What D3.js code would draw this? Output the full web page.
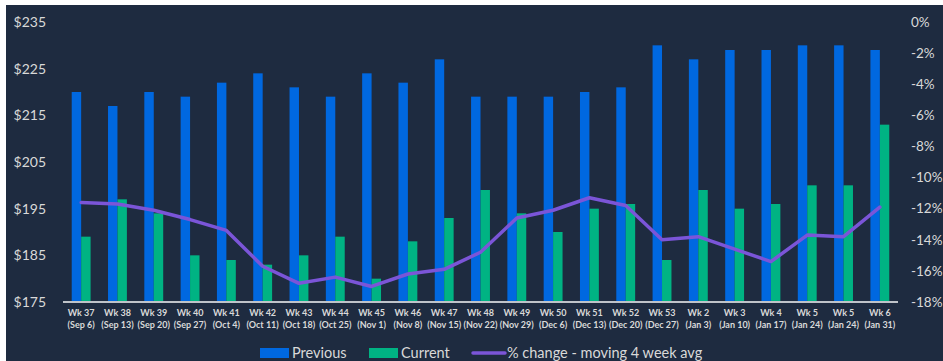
<!DOCTYPE html>
<html>
<head>
<meta charset="utf-8">
<script src="https://cdn.jsdelivr.net/npm/d3@7"></script>
<style>
  html, body { margin: 0; padding: 0; background: #ffffff; }
  svg { display: block; }
  text { font-family: Lato, "Open Sans", "Liberation Sans", sans-serif; }
</style>
</head>
<body>
<svg id="chart" width="943" height="361"></svg>
<script>
// Weekly average spend: previous year vs current year, plus moving % change
const weekNames = ["Wk 37","Wk 38","Wk 39","Wk 40","Wk 41","Wk 42","Wk 43","Wk 44","Wk 45","Wk 46","Wk 47","Wk 48",
                   "Wk 49","Wk 50","Wk 51","Wk 52","Wk 53","Wk 2","Wk 3","Wk 4","Wk 5","Wk 5","Wk 6"];
const weekDates = ["(Sep 6)","(Sep 13)","(Sep 20)","(Sep 27)","(Oct 4)","(Oct 11)","(Oct 18)","(Oct 25)","(Nov 1)",
                   "(Nov 8)","(Nov 15)","(Nov 22)","(Nov 29)","(Dec 6)","(Dec 13)","(Dec 20)","(Dec 27)","(Jan 3)",
                   "(Jan 10)","(Jan 17)","(Jan 24)","(Jan 24)","(Jan 31)"];
const previous = [220,217,220,219,222,224,221,219,224,222,227,219,219,219,220,221,230,227,229,229,230,230,229];
const current  = [189,197,194,185,184,183,185,189,180,188,193,199,194,190,195,196,184,199,195,196,200,200,213];
const pctChange = [-11.6,-11.7,-12.1,-12.7,-13.4,-15.7,-16.8,-16.4,-17.0,-16.2,-15.9,-14.8,
                   -12.6,-12.1,-11.3,-11.8,-14.0,-13.8,-14.6,-15.4,-13.7,-13.8,-11.9];
const dollarTicks = [175,185,195,205,215,225,235];
const pctTicks = [0,-2,-4,-6,-8,-10,-12,-14,-16,-18];
const seriesNames = ["Previous","Current","% change - moving 4 week avg"];

const colors = { bg: "#1e2b40", prev: "#0068e0", cur: "#00b383", line: "#7b55d8", text: "#d9d9d9", axis: "#bfc3c9" };

const svg = d3.select("#chart");
svg.append("rect").attr("x", 6).attr("y", 5).attr("width", 943 - 6).attr("height", 361 - 5).attr("fill", colors.bg);

const plot = { left: 63, right: 898, top: 22, bottom: 302 };
const idx = d3.range(weekNames.length);

const x0 = d3.scaleBand().domain(idx).range([plot.left, plot.right]).paddingInner(0.48).paddingOuter(0.24);
const x1 = d3.scaleBand().domain(["prev","cur"]).range([0, x0.bandwidth()]);
const y = d3.scaleLinear().domain([175, 235]).range([plot.bottom, plot.top]);
const yPct = d3.scaleLinear().domain([-18, 0]).range([plot.bottom, plot.top]);

// Bars
const groups = svg.append("g").selectAll("g").data(idx).join("g")
  .attr("transform", i => `translate(${x0(i)},0)`);
groups.append("rect")
  .attr("x", x1("prev")).attr("width", x1.bandwidth())
  .attr("y", i => y(previous[i])).attr("height", i => y(175) - y(previous[i]))
  .attr("fill", colors.prev);
groups.append("rect")
  .attr("x", x1("cur")).attr("width", x1.bandwidth())
  .attr("y", i => y(current[i])).attr("height", i => y(175) - y(current[i]))
  .attr("fill", colors.cur);

// Moving-average % change line
const line = d3.line().x(i => x0(i) + x0.bandwidth() / 2).y(i => yPct(pctChange[i]));
svg.append("path").datum(idx).attr("d", line)
  .attr("fill", "none").attr("stroke", colors.line).attr("stroke-width", 3.5)
  .attr("stroke-linejoin", "round").attr("stroke-linecap", "round");

// Baseline
svg.append("line").attr("x1", plot.left).attr("x2", plot.right)
  .attr("y1", plot.bottom).attr("y2", plot.bottom)
  .attr("stroke", colors.axis).attr("stroke-width", 2);

// Left axis ($)
const leftAxis = d3.axisLeft(y).tickValues(dollarTicks).tickFormat(d => "$" + d).tickSize(0).tickPadding(0);
const gL = svg.append("g").attr("transform", "translate(46,0)").call(leftAxis);
gL.select(".domain").remove();
gL.selectAll("text").attr("fill", colors.text).attr("font-size", 14).attr("font-family", "Lato, sans-serif");

// Right axis (%)
const rightAxis = d3.axisRight(yPct).tickValues(pctTicks).tickFormat(d => d + "%").tickSize(0).tickPadding(0);
const gR = svg.append("g").attr("transform", "translate(911,0)").call(rightAxis);
gR.select(".domain").remove();
gR.selectAll("text").attr("fill", colors.text).attr("font-size", 13.5).attr("font-family", "Lato, sans-serif");

// Category labels (two lines)
const xl = svg.append("g").selectAll("text").data(idx).join("text")
  .attr("x", i => x0(i) + x0.bandwidth() / 2)
  .attr("text-anchor", "middle").attr("fill", colors.text)
  .attr("font-size", 9).attr("font-weight", "bold");
xl.append("tspan").attr("x", i => x0(i) + x0.bandwidth() / 2).attr("y", 316).text(i => weekNames[i]);
xl.append("tspan").attr("x", i => x0(i) + x0.bandwidth() / 2).attr("y", 328).text(i => weekDates[i]);

// Legend
const legend = svg.append("g");
const items = [
  { name: seriesNames[0], type: "rect", color: colors.prev, x: 260 },
  { name: seriesNames[1], type: "rect", color: colors.cur, x: 369 },
  { name: seriesNames[2], type: "line", color: colors.line, x: 473 }
];
items.forEach(it => {
  if (it.type === "rect") {
    legend.append("rect").attr("x", it.x).attr("y", 348).attr("width", 29).attr("height", 10).attr("fill", it.color);
  } else {
    legend.append("line").attr("x1", it.x).attr("x2", it.x + 32).attr("y1", 353).attr("y2", 353)
      .attr("stroke", it.color).attr("stroke-width", 3.5).attr("stroke-linecap", "round");
  }
  legend.append("text").attr("x", it.x + (it.type === "rect" ? 32 : 34)).attr("y", 358)
    .attr("fill", colors.text).attr("font-size", 14.5).text(it.name);
});
</script>
</body>
</html>
